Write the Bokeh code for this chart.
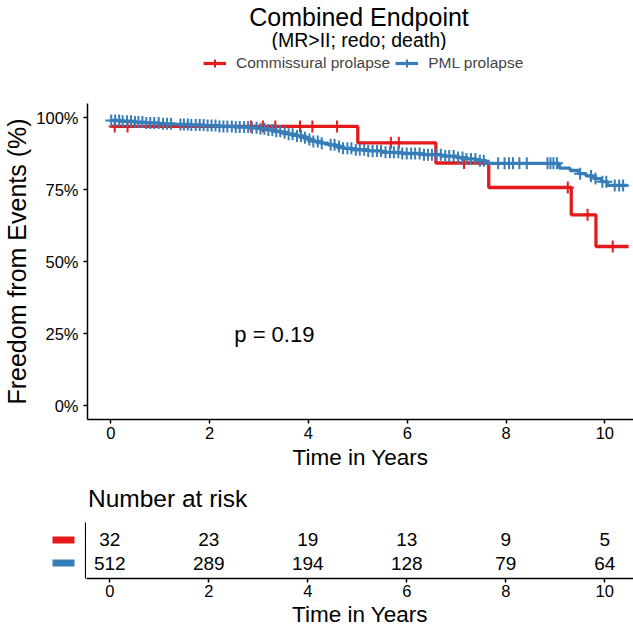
import numpy as np
from bokeh.plotting import figure
from bokeh.models import (Label, Legend, LegendItem, FixedTicker, ColumnDataSource,
                          Range1d)
from bokeh.layouts import column, row
from bokeh.embed import file_html
from bokeh.resources import INLINE
from bokeh.core.properties import value

# ---------------- data ----------------
group_names = ["Commissural prolapse", "PML prolapse"]
group_colors = ["#E41A1C", "#377EB8"]

red_event_t = [0.0, 5.0, 6.58, 7.65, 9.32, 9.82]
red_surv = [0.969, 0.912, 0.842, 0.757, 0.662, 0.552]
red_censor_t = [0.08, 0.34, 2.84, 3.08, 3.33, 3.83, 4.08, 4.58, 5.67, 5.83,
                7.15, 9.25, 9.65, 10.16]
red_end = 10.48

blue_event_t = [0.0, 0.2, 0.45, 0.7, 1.0, 1.3, 1.6, 1.9, 2.2, 2.5, 2.8, 3.0,
                3.15, 3.3, 3.45, 3.6, 3.75, 3.9, 4.0, 4.1, 4.25, 4.4, 4.55,
                4.7, 4.9, 5.2, 5.5, 5.9, 6.3, 6.7, 7.0, 7.2, 7.4, 7.6, 9.08,
                9.3, 9.47, 9.62, 9.78, 9.93, 10.05]
blue_surv = [0.990, 0.987, 0.984, 0.981, 0.978, 0.976, 0.974, 0.972, 0.969,
             0.967, 0.964, 0.961, 0.957, 0.952, 0.947, 0.942, 0.936, 0.930,
             0.924, 0.917, 0.911, 0.905, 0.899, 0.893, 0.888, 0.884, 0.879,
             0.875, 0.871, 0.866, 0.861, 0.856, 0.850, 0.841, 0.824, 0.816,
             0.805, 0.797, 0.788, 0.777, 0.764]
blue_censor_t = [0.01, 0.09, 0.17, 0.24, 0.33, 0.41, 0.49, 0.56, 0.64, 0.72,
                 0.8, 0.88, 0.97, 1.06, 1.14, 1.22, 1.41, 1.48, 1.56, 1.63,
                 1.72, 1.8, 1.88, 1.96, 2.04, 2.12, 2.2, 2.28, 2.36, 2.45,
                 2.53, 2.61, 2.7, 2.78, 2.86, 2.95, 3.03, 3.11, 3.19, 3.27,
                 3.35, 3.43, 3.52, 3.6, 3.68, 3.77, 3.85, 3.93, 4.02, 4.1,
                 4.19, 4.27, 4.45, 4.53, 4.62, 4.7, 4.79, 4.87, 4.96, 5.04,
                 5.13, 5.21, 5.3, 5.39, 5.47, 5.56, 5.65, 5.73, 5.82, 5.9,
                 5.99, 6.08, 6.16, 6.25, 6.34, 6.42, 6.5, 6.59, 6.68, 6.77,
                 6.85, 6.94, 7.03, 7.12, 7.2, 7.29, 7.38, 7.47, 7.55, 7.84,
                 7.97, 8.06, 8.14, 8.27, 8.42, 8.84, 8.9, 8.96, 9.03, 9.5,
                 9.72, 9.81, 9.95, 10.03, 10.2, 10.29, 10.37]
blue_end = 10.46

risk_t = [0, 2, 4, 6, 8, 10]
risk_red = [32, 23, 19, 13, 9, 5]
risk_blue = [512, 289, 194, 128, 79, 64]

x_ticks = [0, 2, 4, 6, 8, 10]
y_ticks = [0, 0.25, 0.5, 0.75, 1.0]
y_tick_labels = ["0%", "25%", "50%", "75%", "100%"]

title_text = "Combined Endpoint"
subtitle_text = "(MR>II; redo; death)"
pvalue_text = "p = 0.19"
x_title = "Time in Years"
y_title = "Freedom from Events (%)"
risk_title = "Number at risk"

# ---------------- layout helpers (page pixel -> data) ----------------
FONT = "Liberation Sans"
W = 633
FL = 86  # left edge of every plotting frame (page px)


def tx(px):
    return (px - 109.3) / 49.5


def sy(py):
    return (405.0 - py) / 288.0


def ry(py):
    return 1.0 - (py - 540.0) / 24.0


def step_xy(ev_t, surv, end):
    return list(ev_t) + [end], list(surv) + [surv[-1]]


def censor_y(ev_t, surv, cens):
    idx = np.searchsorted(np.array(ev_t), np.array(cens), side="right") - 1
    return [surv[i] for i in idx]


def blank(fig, transparent=False):
    fig.outline_line_color = None
    fig.xgrid.visible = False
    fig.ygrid.visible = False
    if transparent:
        fig.background_fill_alpha = 0
        fig.border_fill_alpha = 0
    else:
        fig.background_fill_color = "white"
        fig.border_fill_color = "white"


def style_axes(fig):
    for ax in fig.axis:
        ax.axis_line_color = "black"
        ax.axis_line_width = 1.5
        ax.major_tick_line_color = "black"
        ax.major_tick_line_width = 1.5
        ax.major_tick_out = 4
        ax.major_tick_in = 0
        ax.minor_tick_line_color = None
        ax.major_label_text_font = FONT
        ax.major_label_text_font_size = "16.5px"
        ax.major_label_text_color = "black"
        ax.axis_label_text_font = FONT
        ax.axis_label_text_font_size = "22.5px"
        ax.axis_label_text_font_style = "normal"
        ax.axis_label_text_color = "black"


def txt(fig, x, y, s, size, align="center"):
    fig.text(x=[x], y=[y], text=[s], text_align=align, text_baseline="middle",
             text_font=value(FONT), text_font_size=size, text_color="black")


# ---------------- header: title + subtitle (page y 0..50) ----------------
H_T = 50
head = figure(width=W, height=H_T, output_backend="svg", toolbar_location=None,
              x_range=Range1d(FL, W), y_range=Range1d(H_T, 0), min_border=0,
              min_border_left=FL)
blank(head)
head.axis.visible = False
txt(head, 358, 16, title_text, "25px")
txt(head, 358, 39, subtitle_text, "19.5px")

# ---------------- legend strip (page y 50..75) ----------------
H_L = 25
leg = figure(width=W, height=H_L, output_backend="svg", toolbar_location=None,
             x_range=Range1d(0, 1), y_range=Range1d(0, 1), min_border=0,
             min_border_left=FL)
blank(leg)
leg.axis.visible = False
items = []
for name, col in zip(group_names, group_colors):
    # keys only: the single point lies outside the visible range
    lr = leg.line([5, 6], [5, 5], line_color=col, line_width=3.2)
    sr = leg.scatter([5], [5], marker="cross", size=11, line_color=col,
                     line_width=2)
    items.append(LegendItem(label=name, renderers=[lr, sr]))
legend = Legend(items=items, orientation="horizontal", location=(202 - FL, 2.5),
                padding=0, margin=0, spacing=5, glyph_width=23, glyph_height=20,
                label_standoff=10, label_text_font=FONT,
                label_text_font_size="15.5px", border_line_color=None,
                background_fill_alpha=0)
leg.add_layout(legend, "center")

# ---------------- main KM plot (page y 75..472) ----------------
TOP = H_T + H_L
H1 = 472 - TOP
p = figure(width=W, height=H1, output_backend="svg", toolbar_location=None,
           x_range=Range1d(tx(FL), tx(W)), y_range=Range1d(sy(419), sy(103)),
           min_border_left=FL, min_border_right=0, min_border_top=103 - TOP,
           min_border_bottom=472 - 419)
blank(p)
p.xaxis.ticker = FixedTicker(ticks=x_ticks)
p.yaxis.ticker = FixedTicker(ticks=y_ticks)
p.yaxis.major_label_overrides = {t: l for t, l in zip(y_ticks, y_tick_labels)}
style_axes(p)
p.xaxis.major_label_standoff = 3
p.yaxis.major_label_standoff = 5
p.xaxis.axis_label = x_title
p.xaxis.axis_label_standoff = 3
p.yaxis.axis_label = y_title
p.yaxis.axis_label_standoff = 2
p.yaxis.axis_label_text_font_size = "25px"

series = [
    (red_event_t, red_surv, red_censor_t, red_end, group_colors[0]),
    (blue_event_t, blue_surv, blue_censor_t, blue_end, group_colors[1]),
]
for ev, sv, cs, end, col in series:
    xs, ys = step_xy(ev, sv, end)
    p.step(xs, ys, mode="after", line_color=col, line_width=3.3)
    p.scatter(cs, censor_y(ev, sv, cs), marker="cross", size=12,
              line_color=col, line_width=2)

p.add_layout(Label(x=2.5, y=0.245, text=pvalue_text, text_align="left",
                   text_baseline="middle", text_font=FONT,
                   text_font_size="22px", text_color="black"))

# ---------------- risk table title (page y 472..522) ----------------
H_R = 50
rt = figure(width=W, height=H_R, output_backend="svg", toolbar_location=None,
            x_range=Range1d(FL, W), y_range=Range1d(472 + H_R, 472), min_border=0,
            min_border_left=FL)
blank(rt)
rt.axis.visible = False
txt(rt, FL + 0.5, 498, risk_title, "24.5px", align="left")

# ---------------- risk table (page y 522..629) ----------------
BOTTOM = 629
H2 = BOTTOM - 522
bars = figure(width=FL, height=H2, output_backend="svg", toolbar_location=None,
              x_range=Range1d(0, FL), y_range=Range1d(ry(580), ry(522)),
              min_border=0, min_border_bottom=BOTTOM - 580)
blank(bars, transparent=True)
bars.axis.visible = False
rows = [(risk_red, 1.0, group_colors[0]), (risk_blue, 0.0, group_colors[1])]
bars.rect(x=[63, 63], y=[r[1] for r in rows], width=22, height=7,
          width_units="screen", height_units="screen",
          fill_color=[r[2] for r in rows], line_color=None)
# y axis line of the table, at the right edge of the key strip
bars.line(x=[FL - 0.8, FL - 0.8], y=[ry(582), ry(521)], line_color="black",
          line_width=1.6)

t = figure(width=W - FL, height=H2, output_backend="svg", toolbar_location=None,
           x_range=Range1d(tx(FL), tx(W)), y_range=Range1d(ry(580), ry(522)),
           min_border_left=0, min_border_right=0, min_border_top=0,
           min_border_bottom=BOTTOM - 580)
blank(t, transparent=True)
t.yaxis.visible = False
t.xaxis.ticker = FixedTicker(ticks=x_ticks)
style_axes(t)
t.xaxis.major_label_standoff = 2
t.xaxis.axis_label = x_title
t.xaxis.axis_label_standoff = 2

for counts, yrow, col in rows:
    src = ColumnDataSource(dict(x=risk_t, y=[yrow] * len(risk_t),
                                txt=[str(c) for c in counts]))
    t.text(x="x", y="y", text="txt", source=src, text_align="center",
           text_baseline="middle", text_font=value(FONT),
           text_font_size="19px", text_color="black")

layout = column(head, leg, p, rt, row(bars, t))
open("out.html", "w").write(file_html(layout, INLINE))
